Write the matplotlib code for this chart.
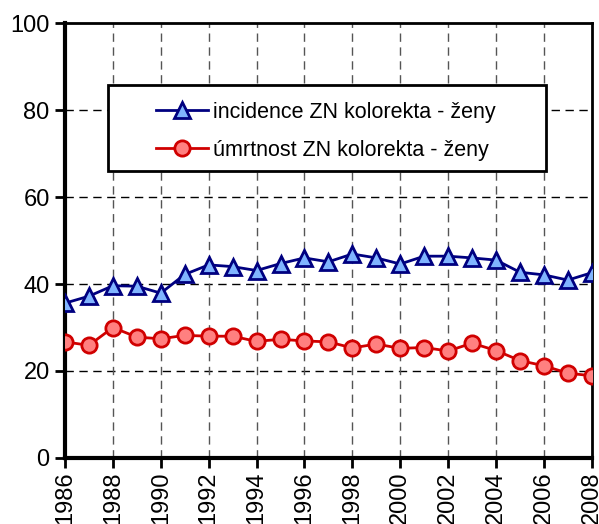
import matplotlib
matplotlib.use('Agg')
import matplotlib.pyplot as plt
from matplotlib.patches import Rectangle

years = list(range(1986, 2009))
incidence = [35.6, 37.2, 39.6, 39.5, 37.9, 42.2, 44.4, 44.0, 43.1, 44.7, 46.0, 45.1,
             46.9, 46.0, 44.6, 46.4, 46.4, 46.0, 45.5, 42.7, 42.1, 40.9, 42.6]
mortality = [26.7, 25.9, 30.0, 27.8, 27.4, 28.2, 28.0, 28.0, 26.8, 27.3, 26.9, 26.7,
             25.3, 26.2, 25.2, 25.4, 24.6, 26.4, 24.7, 22.4, 21.2, 19.5, 18.9]
labels = ['incidence ZN kolorekta - ženy', 'úmrtnost ZN kolorekta - ženy']

plt.rcParams['font.family'] = ['Liberation Sans', 'DejaVu Sans']

fig = plt.figure(figsize=(5.99, 5.24), dpi=100)
ax = fig.add_axes([0.1085, 0.126, 0.8795, 0.830])

ax.plot(years, incidence, color='#000080', lw=2, marker='^', ms=11,
        mfc='#80b4ff', mec='#000080', mew=2, label=labels[0], zorder=3)
ax.plot(years, mortality, color='#d00000', lw=2, marker='o', ms=11,
        mfc='#ff8080', mec='#d00000', mew=2, label=labels[1], zorder=3)

ax.set_xlim(1986, 2008)
ax.set_ylim(0, 100)
ax.set_xticks(range(1986, 2009, 2))
ax.set_yticks(range(0, 101, 20))

for y in range(20, 100, 20):
    ax.axhline(y, color='black', lw=1, ls=(0, (6, 4)), zorder=1)
for x in range(1988, 2008, 2):
    ax.axvline(x, color='#555555', lw=1, ls=(0, (6, 4)), zorder=1)

ax.spines['left'].set_linewidth(3)
ax.spines['bottom'].set_linewidth(3)
ax.spines['top'].set_linewidth(2)
ax.spines['right'].set_linewidth(2)

ax.tick_params(axis='both', direction='out', length=7, width=2, labelsize=17)
ax.tick_params(axis='x', labelrotation=90, pad=3)
ax.tick_params(axis='y', pad=4)
for t in ax.get_xticklabels():
    t.set_va('top')

# legend frame drawn separately, wider than the text like in the original
ax.add_patch(Rectangle((0.0816, 0.6598), 0.8311, 0.1977, transform=ax.transAxes,
                       facecolor='white', edgecolor='black', lw=2, zorder=4))
leg = ax.legend(loc='upper left', bbox_to_anchor=(0.1727, 0.819), fontsize=15.5,
                frameon=False, borderpad=0, labelspacing=0.8, handlelength=2.4,
                handletextpad=0.25, borderaxespad=0)
leg.set_zorder(5)

fig.savefig('out.png', dpi=100)
